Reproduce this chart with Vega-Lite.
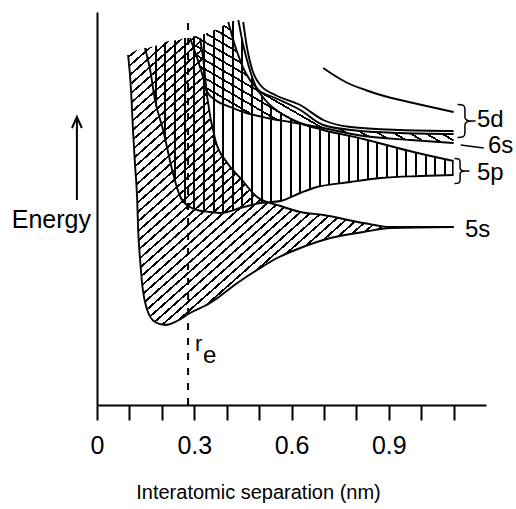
{
"$schema": "https://vega.github.io/schema/vega-lite/v6.json",
"width": 389, "height": 393,
"autosize": {"type": "none"},
"padding": {"left": 97, "top": 12, "right": 30, "bottom": 104},
"background": "white",
"config": {"view": {"stroke": null}, "font": "Liberation Sans"},
"datasets": {
"s5": [
{"x":0.096,"e":350,"hi":350},{"x":0.105,"e":315,"hi":352},{"x":0.111,"e":275,"hi":353},{"x":0.117,"e":242,"hi":354},{"x":0.124,"e":205,"hi":355},{"x":0.127,"e":175,"hi":355},{"x":0.133,"e":145,"hi":355},{"x":0.139,"e":122,"hi":356},{"x":0.155,"e":95,"hi":357},{"x":0.179,"e":83,"hi":359},{"x":0.21,"e":80,"hi":363},{"x":0.247,"e":84,"hi":365},{"x":0.287,"e":92,"hi":368},{"x":0.318,"e":97,"hi":368},{"x":0.328,"e":99,"hi":345},{"x":0.34,"e":101,"hi":308},{"x":0.349,"e":102,"hi":292},{"x":0.365,"e":106,"hi":265},{"x":0.402,"e":114,"hi":242},{"x":0.433,"e":122,"hi":230},{"x":0.442,"e":124,"hi":227},{"x":0.494,"e":135,"hi":208},{"x":0.556,"e":147,"hi":200},{"x":0.566,"e":148,"hi":199},{"x":0.627,"e":157,"hi":193},{"x":0.698,"e":165,"hi":190},{"x":0.72,"e":167,"hi":189},{"x":0.822,"e":173,"hi":182},{"x":0.905,"e":177,"hi":178},{"x":1.1,"e":178,"hi":178}
],
"p5": [
{"x":0.148,"e":356,"hi":356},{"x":0.164,"e":335,"hi":358},{"x":0.179,"e":305,"hi":359},{"x":0.204,"e":275,"hi":362},{"x":0.232,"e":235,"hi":364},{"x":0.257,"e":208,"hi":366},{"x":0.287,"e":198,"hi":368},{"x":0.309,"e":195,"hi":369},{"x":0.349,"e":193,"hi":373},{"x":0.381,"e":192,"hi":378},{"x":0.436,"e":196,"hi":385},{"x":0.442,"e":197,"hi":375},{"x":0.451,"e":198,"hi":360},{"x":0.467,"e":199,"hi":340},{"x":0.488,"e":201,"hi":320},{"x":0.504,"e":202,"hi":312},{"x":0.519,"e":203,"hi":305},{"x":0.566,"e":204,"hi":292},{"x":0.627,"e":212,"hi":282},{"x":0.668,"e":217,"hi":278},{"x":0.698,"e":219,"hi":275},{"x":0.782,"e":223,"hi":269},{"x":0.822,"e":225,"hi":266},{"x":0.875,"e":227,"hi":262},{"x":0.976,"e":229,"hi":253},{"x":1.1,"e":230,"hi":244}
],
"s6": [
{"x":0.287,"e":367,"hi":368},{"x":0.309,"e":347,"hi":369},{"x":0.328,"e":327,"hi":370},{"x":0.34,"e":313,"hi":372},{"x":0.365,"e":305,"hi":375},{"x":0.405,"e":299,"hi":381},{"x":0.43,"e":296,"hi":355},{"x":0.457,"e":292,"hi":333},{"x":0.498,"e":289,"hi":315},{"x":0.55,"e":286,"hi":307},{"x":0.596,"e":283,"hi":300},{"x":0.627,"e":281,"hi":295},{"x":0.698,"e":277,"hi":280},{"x":0.813,"e":270,"hi":274},{"x":0.936,"e":266,"hi":272},{"x":1.1,"e":262,"hi":271}
],
"curves": [
{"c":"5s_lo","x":0.096,"e":350},{"c":"5s_lo","x":0.105,"e":315},{"c":"5s_lo","x":0.111,"e":275},{"c":"5s_lo","x":0.117,"e":242},{"c":"5s_lo","x":0.124,"e":205},{"c":"5s_lo","x":0.127,"e":175},{"c":"5s_lo","x":0.133,"e":145},{"c":"5s_lo","x":0.139,"e":122},{"c":"5s_lo","x":0.155,"e":95},{"c":"5s_lo","x":0.179,"e":83},{"c":"5s_lo","x":0.21,"e":80},{"c":"5s_lo","x":0.247,"e":84},{"c":"5s_lo","x":0.287,"e":92},{"c":"5s_lo","x":0.349,"e":102},{"c":"5s_lo","x":0.433,"e":122},{"c":"5s_lo","x":0.494,"e":135},{"c":"5s_lo","x":0.556,"e":147},{"c":"5s_lo","x":0.627,"e":157},{"c":"5s_lo","x":0.72,"e":167},{"c":"5s_lo","x":0.822,"e":173},{"c":"5s_lo","x":0.905,"e":177},{"c":"5s_lo","x":1.1,"e":178},
{"c":"5s_hi","x":0.318,"e":367},{"c":"5s_hi","x":0.328,"e":345},{"c":"5s_hi","x":0.34,"e":308},{"c":"5s_hi","x":0.365,"e":265},{"c":"5s_hi","x":0.402,"e":242},{"c":"5s_hi","x":0.442,"e":227},{"c":"5s_hi","x":0.494,"e":208},{"c":"5s_hi","x":0.566,"e":199},{"c":"5s_hi","x":0.627,"e":193},{"c":"5s_hi","x":0.698,"e":190},{"c":"5s_hi","x":0.822,"e":182},{"c":"5s_hi","x":0.905,"e":178},{"c":"5s_hi","x":1.1,"e":178},
{"c":"5p_lo","x":0.148,"e":357},{"c":"5p_lo","x":0.164,"e":335},{"c":"5p_lo","x":0.179,"e":305},{"c":"5p_lo","x":0.204,"e":275},{"c":"5p_lo","x":0.232,"e":235},{"c":"5p_lo","x":0.257,"e":208},{"c":"5p_lo","x":0.287,"e":198},{"c":"5p_lo","x":0.309,"e":195},{"c":"5p_lo","x":0.349,"e":193},{"c":"5p_lo","x":0.381,"e":192},{"c":"5p_lo","x":0.442,"e":197},{"c":"5p_lo","x":0.504,"e":202},{"c":"5p_lo","x":0.566,"e":204},{"c":"5p_lo","x":0.627,"e":212},{"c":"5p_lo","x":0.668,"e":217},{"c":"5p_lo","x":0.782,"e":223},{"c":"5p_lo","x":0.875,"e":227},{"c":"5p_lo","x":0.998,"e":229},{"c":"5p_lo","x":1.1,"e":230},
{"c":"5p_hi","x":0.436,"e":385},{"c":"5p_hi","x":0.451,"e":360},{"c":"5p_hi","x":0.467,"e":340},{"c":"5p_hi","x":0.488,"e":320},{"c":"5p_hi","x":0.519,"e":305},{"c":"5p_hi","x":0.566,"e":292},{"c":"5p_hi","x":0.627,"e":282},{"c":"5p_hi","x":0.698,"e":275},{"c":"5p_hi","x":0.822,"e":266},{"c":"5p_hi","x":0.976,"e":253},{"c":"5p_hi","x":1.1,"e":244},
{"c":"6s_lo","x":0.287,"e":367},{"c":"6s_lo","x":0.309,"e":347},{"c":"6s_lo","x":0.328,"e":327},{"c":"6s_lo","x":0.34,"e":313},{"c":"6s_lo","x":0.365,"e":305},{"c":"6s_lo","x":0.411,"e":298},{"c":"6s_lo","x":0.451,"e":293},{"c":"6s_lo","x":0.525,"e":287},{"c":"6s_lo","x":0.596,"e":283},{"c":"6s_lo","x":0.698,"e":277},{"c":"6s_lo","x":0.822,"e":269},{"c":"6s_lo","x":0.967,"e":265},{"c":"6s_lo","x":1.1,"e":262},
{"c":"6s_hi","x":0.405,"e":383},{"c":"6s_hi","x":0.43,"e":355},{"c":"6s_hi","x":0.457,"e":333},{"c":"6s_hi","x":0.498,"e":315},{"c":"6s_hi","x":0.55,"e":307},{"c":"6s_hi","x":0.627,"e":295},{"c":"6s_hi","x":0.698,"e":280},{"c":"6s_hi","x":0.813,"e":274},{"c":"6s_hi","x":0.936,"e":272},{"c":"6s_hi","x":1.1,"e":271},
{"c":"5d_lo","x":0.451,"e":383},{"c":"5d_lo","x":0.464,"e":355},{"c":"5d_lo","x":0.479,"e":335},{"c":"5d_lo","x":0.504,"e":320},{"c":"5d_lo","x":0.55,"e":310},{"c":"5d_lo","x":0.627,"e":300},{"c":"5d_lo","x":0.698,"e":285},{"c":"5d_lo","x":0.782,"e":278},{"c":"5d_lo","x":0.936,"e":275},{"c":"5d_lo","x":1.1,"e":274},
{"c":"5d_hi","x":0.698,"e":337},{"c":"5d_hi","x":0.735,"e":329},{"c":"5d_hi","x":0.773,"e":322},{"c":"5d_hi","x":0.828,"e":315},{"c":"5d_hi","x":0.875,"e":310},{"c":"5d_hi","x":0.976,"e":302},{"c":"5d_hi","x":1.1,"e":293}
],
"re": [{"x":0.281,"e":0,"e2":390}],
"arrow": [{"x":-0.062,"e":205,"e2":286}],
"arrowhead": [{"x":-0.062,"e":288}],
"leader": [{"x":1.122,"e":260,"x2":1.193,"e2":257}],
"brace5d": [{"x":1.135,"e":284}],
"brace5p": [{"x":1.12,"e":234}],
"labels": [{"t":"5d","x":1.172,"e":278},{"t":"6s","x":1.206,"e":252},{"t":"5p","x":1.172,"e":225},{"t":"5s","x":1.135,"e":168},{"t":"e","x":0.327,"e":42}],
"rlabel": [{"t":"r","x":0.302,"e":54}],
"ylabel": [{"t":"Energy","x":-0.0185,"e":177}]
},
"encoding": {
"x": {"field": "x", "type": "quantitative", "scale": {"domain": [0, 1.2], "nice": false, "zero": false},
 "axis": {"values": [0,0.1,0.2,0.3,0.4,0.5,0.6,0.7,0.8,0.9,1.0,1.1], "format": ".1~f",
  "labelExpr": "indexof(['0','0.3','0.6','0.9'], datum.label) >= 0 ? datum.label : ''",
  "labelFlush": false, "labelOverlap": false, "grid": false,
  "domainColor": "black", "domainWidth": 2, "tickColor": "black", "tickWidth": 2, "tickSize": 15,
  "labelFontSize": 25, "labelColor": "black", "labelPadding": 13, "labelFont": "Liberation Sans",
  "title": "Interatomic separation (nm)", "titleFont": "Liberation Sans", "titleFontSize": 20, "titleFontWeight": "normal", "titleColor": "black",
  "titleX": 161, "titleY": 87, "titleBaseline": "middle", "titleAlign": "center"}},
"y": {"field": "e", "type": "quantitative", "scale": {"domain": [0, 393], "nice": false, "zero": false},
 "axis": {"domainColor": "black", "domainWidth": 2, "ticks": false, "labels": false, "grid": false, "title": null}}
},
"layer": [
{"data": {"name": "s5"}, "mark": {"type": "area", "interpolate": "monotone", "stroke": null,
 "fill": {"gradient": "linear", "x1": 0, "y1": 0, "x2": 1, "y2": 1, "stops": [
{"offset":0,"color":"transparent"},{"offset":0,"color":"#000"},{"offset":0.0042,"color":"#000"},{"offset":0.0042,"color":"transparent"},
{"offset":0.0167,"color":"transparent"},{"offset":0.0167,"color":"#000"},{"offset":0.0209,"color":"#000"},{"offset":0.0209,"color":"transparent"},
{"offset":0.0333,"color":"transparent"},{"offset":0.0333,"color":"#000"},{"offset":0.0375,"color":"#000"},{"offset":0.0375,"color":"transparent"},
{"offset":0.05,"color":"transparent"},{"offset":0.05,"color":"#000"},{"offset":0.0542,"color":"#000"},{"offset":0.0542,"color":"transparent"},
{"offset":0.0667,"color":"transparent"},{"offset":0.0667,"color":"#000"},{"offset":0.0709,"color":"#000"},{"offset":0.0709,"color":"transparent"},
{"offset":0.0833,"color":"transparent"},{"offset":0.0833,"color":"#000"},{"offset":0.0875,"color":"#000"},{"offset":0.0875,"color":"transparent"},
{"offset":0.1,"color":"transparent"},{"offset":0.1,"color":"#000"},{"offset":0.1042,"color":"#000"},{"offset":0.1042,"color":"transparent"},
{"offset":0.1167,"color":"transparent"},{"offset":0.1167,"color":"#000"},{"offset":0.1209,"color":"#000"},{"offset":0.1209,"color":"transparent"},
{"offset":0.1333,"color":"transparent"},{"offset":0.1333,"color":"#000"},{"offset":0.1375,"color":"#000"},{"offset":0.1375,"color":"transparent"},
{"offset":0.15,"color":"transparent"},{"offset":0.15,"color":"#000"},{"offset":0.1542,"color":"#000"},{"offset":0.1542,"color":"transparent"},
{"offset":0.1667,"color":"transparent"},{"offset":0.1667,"color":"#000"},{"offset":0.1709,"color":"#000"},{"offset":0.1709,"color":"transparent"},
{"offset":0.1833,"color":"transparent"},{"offset":0.1833,"color":"#000"},{"offset":0.1875,"color":"#000"},{"offset":0.1875,"color":"transparent"},
{"offset":0.2,"color":"transparent"},{"offset":0.2,"color":"#000"},{"offset":0.2042,"color":"#000"},{"offset":0.2042,"color":"transparent"},
{"offset":0.2167,"color":"transparent"},{"offset":0.2167,"color":"#000"},{"offset":0.2209,"color":"#000"},{"offset":0.2209,"color":"transparent"},
{"offset":0.2333,"color":"transparent"},{"offset":0.2333,"color":"#000"},{"offset":0.2375,"color":"#000"},{"offset":0.2375,"color":"transparent"},
{"offset":0.25,"color":"transparent"},{"offset":0.25,"color":"#000"},{"offset":0.2542,"color":"#000"},{"offset":0.2542,"color":"transparent"},
{"offset":0.2667,"color":"transparent"},{"offset":0.2667,"color":"#000"},{"offset":0.2709,"color":"#000"},{"offset":0.2709,"color":"transparent"},
{"offset":0.2833,"color":"transparent"},{"offset":0.2833,"color":"#000"},{"offset":0.2875,"color":"#000"},{"offset":0.2875,"color":"transparent"},
{"offset":0.3,"color":"transparent"},{"offset":0.3,"color":"#000"},{"offset":0.3042,"color":"#000"},{"offset":0.3042,"color":"transparent"},
{"offset":0.3167,"color":"transparent"},{"offset":0.3167,"color":"#000"},{"offset":0.3209,"color":"#000"},{"offset":0.3209,"color":"transparent"},
{"offset":0.3333,"color":"transparent"},{"offset":0.3333,"color":"#000"},{"offset":0.3375,"color":"#000"},{"offset":0.3375,"color":"transparent"},
{"offset":0.35,"color":"transparent"},{"offset":0.35,"color":"#000"},{"offset":0.3542,"color":"#000"},{"offset":0.3542,"color":"transparent"},
{"offset":0.3667,"color":"transparent"},{"offset":0.3667,"color":"#000"},{"offset":0.3709,"color":"#000"},{"offset":0.3709,"color":"transparent"},
{"offset":0.3833,"color":"transparent"},{"offset":0.3833,"color":"#000"},{"offset":0.3875,"color":"#000"},{"offset":0.3875,"color":"transparent"},
{"offset":0.4,"color":"transparent"},{"offset":0.4,"color":"#000"},{"offset":0.4042,"color":"#000"},{"offset":0.4042,"color":"transparent"},
{"offset":0.4167,"color":"transparent"},{"offset":0.4167,"color":"#000"},{"offset":0.4209,"color":"#000"},{"offset":0.4209,"color":"transparent"},
{"offset":0.4333,"color":"transparent"},{"offset":0.4333,"color":"#000"},{"offset":0.4375,"color":"#000"},{"offset":0.4375,"color":"transparent"},
{"offset":0.45,"color":"transparent"},{"offset":0.45,"color":"#000"},{"offset":0.4542,"color":"#000"},{"offset":0.4542,"color":"transparent"},
{"offset":0.4667,"color":"transparent"},{"offset":0.4667,"color":"#000"},{"offset":0.4709,"color":"#000"},{"offset":0.4709,"color":"transparent"},
{"offset":0.4833,"color":"transparent"},{"offset":0.4833,"color":"#000"},{"offset":0.4875,"color":"#000"},{"offset":0.4875,"color":"transparent"},
{"offset":0.5,"color":"transparent"},{"offset":0.5,"color":"#000"},{"offset":0.5042,"color":"#000"},{"offset":0.5042,"color":"transparent"},
{"offset":0.5167,"color":"transparent"},{"offset":0.5167,"color":"#000"},{"offset":0.5209,"color":"#000"},{"offset":0.5209,"color":"transparent"},
{"offset":0.5333,"color":"transparent"},{"offset":0.5333,"color":"#000"},{"offset":0.5375,"color":"#000"},{"offset":0.5375,"color":"transparent"},
{"offset":0.55,"color":"transparent"},{"offset":0.55,"color":"#000"},{"offset":0.5542,"color":"#000"},{"offset":0.5542,"color":"transparent"},
{"offset":0.5667,"color":"transparent"},{"offset":0.5667,"color":"#000"},{"offset":0.5709,"color":"#000"},{"offset":0.5709,"color":"transparent"},
{"offset":0.5833,"color":"transparent"},{"offset":0.5833,"color":"#000"},{"offset":0.5875,"color":"#000"},{"offset":0.5875,"color":"transparent"},
{"offset":0.6,"color":"transparent"},{"offset":0.6,"color":"#000"},{"offset":0.6042,"color":"#000"},{"offset":0.6042,"color":"transparent"},
{"offset":0.6167,"color":"transparent"},{"offset":0.6167,"color":"#000"},{"offset":0.6209,"color":"#000"},{"offset":0.6209,"color":"transparent"},
{"offset":0.6333,"color":"transparent"},{"offset":0.6333,"color":"#000"},{"offset":0.6375,"color":"#000"},{"offset":0.6375,"color":"transparent"},
{"offset":0.65,"color":"transparent"},{"offset":0.65,"color":"#000"},{"offset":0.6542,"color":"#000"},{"offset":0.6542,"color":"transparent"},
{"offset":0.6667,"color":"transparent"},{"offset":0.6667,"color":"#000"},{"offset":0.6709,"color":"#000"},{"offset":0.6709,"color":"transparent"},
{"offset":0.6833,"color":"transparent"},{"offset":0.6833,"color":"#000"},{"offset":0.6875,"color":"#000"},{"offset":0.6875,"color":"transparent"},
{"offset":0.7,"color":"transparent"},{"offset":0.7,"color":"#000"},{"offset":0.7042,"color":"#000"},{"offset":0.7042,"color":"transparent"},
{"offset":0.7167,"color":"transparent"},{"offset":0.7167,"color":"#000"},{"offset":0.7209,"color":"#000"},{"offset":0.7209,"color":"transparent"},
{"offset":0.7333,"color":"transparent"},{"offset":0.7333,"color":"#000"},{"offset":0.7375,"color":"#000"},{"offset":0.7375,"color":"transparent"},
{"offset":0.75,"color":"transparent"},{"offset":0.75,"color":"#000"},{"offset":0.7542,"color":"#000"},{"offset":0.7542,"color":"transparent"},
{"offset":0.7667,"color":"transparent"},{"offset":0.7667,"color":"#000"},{"offset":0.7709,"color":"#000"},{"offset":0.7709,"color":"transparent"},
{"offset":0.7833,"color":"transparent"},{"offset":0.7833,"color":"#000"},{"offset":0.7875,"color":"#000"},{"offset":0.7875,"color":"transparent"},
{"offset":0.8,"color":"transparent"},{"offset":0.8,"color":"#000"},{"offset":0.8042,"color":"#000"},{"offset":0.8042,"color":"transparent"},
{"offset":0.8167,"color":"transparent"},{"offset":0.8167,"color":"#000"},{"offset":0.8209,"color":"#000"},{"offset":0.8209,"color":"transparent"},
{"offset":0.8333,"color":"transparent"},{"offset":0.8333,"color":"#000"},{"offset":0.8375,"color":"#000"},{"offset":0.8375,"color":"transparent"},
{"offset":0.85,"color":"transparent"},{"offset":0.85,"color":"#000"},{"offset":0.8542,"color":"#000"},{"offset":0.8542,"color":"transparent"},
{"offset":0.8667,"color":"transparent"},{"offset":0.8667,"color":"#000"},{"offset":0.8709,"color":"#000"},{"offset":0.8709,"color":"transparent"},
{"offset":0.8833,"color":"transparent"},{"offset":0.8833,"color":"#000"},{"offset":0.8875,"color":"#000"},{"offset":0.8875,"color":"transparent"},
{"offset":0.9,"color":"transparent"},{"offset":0.9,"color":"#000"},{"offset":0.9042,"color":"#000"},{"offset":0.9042,"color":"transparent"},
{"offset":0.9167,"color":"transparent"},{"offset":0.9167,"color":"#000"},{"offset":0.9209,"color":"#000"},{"offset":0.9209,"color":"transparent"},
{"offset":0.9333,"color":"transparent"},{"offset":0.9333,"color":"#000"},{"offset":0.9375,"color":"#000"},{"offset":0.9375,"color":"transparent"},
{"offset":0.95,"color":"transparent"},{"offset":0.95,"color":"#000"},{"offset":0.9542,"color":"#000"},{"offset":0.9542,"color":"transparent"},
{"offset":0.9667,"color":"transparent"},{"offset":0.9667,"color":"#000"},{"offset":0.9709,"color":"#000"},{"offset":0.9709,"color":"transparent"},
{"offset":0.9833,"color":"transparent"},{"offset":0.9833,"color":"#000"},{"offset":0.9875,"color":"#000"},{"offset":0.9875,"color":"transparent"}
 ]}},
 "encoding": {"y2": {"field": "hi"}}},
{"data": {"name": "p5"}, "mark": {"type": "area", "interpolate": "monotone", "stroke": null,
 "fill": {"gradient": "linear", "x1": 0, "y1": 0, "x2": 1, "y2": 0, "stops": [
{"offset":0,"color":"transparent"},{"offset":0,"color":"#000"},{"offset":0.0065,"color":"#000"},{"offset":0.0065,"color":"transparent"},
{"offset":0.0313,"color":"transparent"},{"offset":0.0313,"color":"#000"},{"offset":0.0378,"color":"#000"},{"offset":0.0378,"color":"transparent"},
{"offset":0.0625,"color":"transparent"},{"offset":0.0625,"color":"#000"},{"offset":0.069,"color":"#000"},{"offset":0.069,"color":"transparent"},
{"offset":0.0938,"color":"transparent"},{"offset":0.0938,"color":"#000"},{"offset":0.1003,"color":"#000"},{"offset":0.1003,"color":"transparent"},
{"offset":0.125,"color":"transparent"},{"offset":0.125,"color":"#000"},{"offset":0.1315,"color":"#000"},{"offset":0.1315,"color":"transparent"},
{"offset":0.1563,"color":"transparent"},{"offset":0.1563,"color":"#000"},{"offset":0.1628,"color":"#000"},{"offset":0.1628,"color":"transparent"},
{"offset":0.1875,"color":"transparent"},{"offset":0.1875,"color":"#000"},{"offset":0.194,"color":"#000"},{"offset":0.194,"color":"transparent"},
{"offset":0.2188,"color":"transparent"},{"offset":0.2188,"color":"#000"},{"offset":0.2253,"color":"#000"},{"offset":0.2253,"color":"transparent"},
{"offset":0.25,"color":"transparent"},{"offset":0.25,"color":"#000"},{"offset":0.2565,"color":"#000"},{"offset":0.2565,"color":"transparent"},
{"offset":0.2813,"color":"transparent"},{"offset":0.2813,"color":"#000"},{"offset":0.2878,"color":"#000"},{"offset":0.2878,"color":"transparent"},
{"offset":0.3125,"color":"transparent"},{"offset":0.3125,"color":"#000"},{"offset":0.319,"color":"#000"},{"offset":0.319,"color":"transparent"},
{"offset":0.3438,"color":"transparent"},{"offset":0.3438,"color":"#000"},{"offset":0.3503,"color":"#000"},{"offset":0.3503,"color":"transparent"},
{"offset":0.375,"color":"transparent"},{"offset":0.375,"color":"#000"},{"offset":0.3815,"color":"#000"},{"offset":0.3815,"color":"transparent"},
{"offset":0.4063,"color":"transparent"},{"offset":0.4063,"color":"#000"},{"offset":0.4128,"color":"#000"},{"offset":0.4128,"color":"transparent"},
{"offset":0.4375,"color":"transparent"},{"offset":0.4375,"color":"#000"},{"offset":0.444,"color":"#000"},{"offset":0.444,"color":"transparent"},
{"offset":0.4688,"color":"transparent"},{"offset":0.4688,"color":"#000"},{"offset":0.4753,"color":"#000"},{"offset":0.4753,"color":"transparent"},
{"offset":0.5,"color":"transparent"},{"offset":0.5,"color":"#000"},{"offset":0.5065,"color":"#000"},{"offset":0.5065,"color":"transparent"},
{"offset":0.5313,"color":"transparent"},{"offset":0.5313,"color":"#000"},{"offset":0.5378,"color":"#000"},{"offset":0.5378,"color":"transparent"},
{"offset":0.5625,"color":"transparent"},{"offset":0.5625,"color":"#000"},{"offset":0.569,"color":"#000"},{"offset":0.569,"color":"transparent"},
{"offset":0.5938,"color":"transparent"},{"offset":0.5938,"color":"#000"},{"offset":0.6003,"color":"#000"},{"offset":0.6003,"color":"transparent"},
{"offset":0.625,"color":"transparent"},{"offset":0.625,"color":"#000"},{"offset":0.6315,"color":"#000"},{"offset":0.6315,"color":"transparent"},
{"offset":0.6563,"color":"transparent"},{"offset":0.6563,"color":"#000"},{"offset":0.6628,"color":"#000"},{"offset":0.6628,"color":"transparent"},
{"offset":0.6875,"color":"transparent"},{"offset":0.6875,"color":"#000"},{"offset":0.694,"color":"#000"},{"offset":0.694,"color":"transparent"},
{"offset":0.7188,"color":"transparent"},{"offset":0.7188,"color":"#000"},{"offset":0.7253,"color":"#000"},{"offset":0.7253,"color":"transparent"},
{"offset":0.75,"color":"transparent"},{"offset":0.75,"color":"#000"},{"offset":0.7565,"color":"#000"},{"offset":0.7565,"color":"transparent"},
{"offset":0.7813,"color":"transparent"},{"offset":0.7813,"color":"#000"},{"offset":0.7878,"color":"#000"},{"offset":0.7878,"color":"transparent"},
{"offset":0.8125,"color":"transparent"},{"offset":0.8125,"color":"#000"},{"offset":0.819,"color":"#000"},{"offset":0.819,"color":"transparent"},
{"offset":0.8438,"color":"transparent"},{"offset":0.8438,"color":"#000"},{"offset":0.8503,"color":"#000"},{"offset":0.8503,"color":"transparent"},
{"offset":0.875,"color":"transparent"},{"offset":0.875,"color":"#000"},{"offset":0.8815,"color":"#000"},{"offset":0.8815,"color":"transparent"},
{"offset":0.9063,"color":"transparent"},{"offset":0.9063,"color":"#000"},{"offset":0.9128,"color":"#000"},{"offset":0.9128,"color":"transparent"},
{"offset":0.9375,"color":"transparent"},{"offset":0.9375,"color":"#000"},{"offset":0.944,"color":"#000"},{"offset":0.944,"color":"transparent"},
{"offset":0.9688,"color":"transparent"},{"offset":0.9688,"color":"#000"},{"offset":0.9753,"color":"#000"},{"offset":0.9753,"color":"transparent"},
{"offset":0.9935,"color":"transparent"},{"offset":0.9935,"color":"#000"},{"offset":1,"color":"#000"}
 ]}},
 "encoding": {"y2": {"field": "hi"}}},
{"data": {"name": "s6"}, "mark": {"type": "area", "interpolate": "monotone", "stroke": null,
 "fill": {"gradient": "linear", "x1": 0, "y1": 1, "x2": 1.106, "y2": 0.135, "stops": [
{"offset":0,"color":"transparent"},{"offset":0,"color":"#000"},{"offset":0.0077,"color":"#000"},{"offset":0.0077,"color":"transparent"},
{"offset":0.0333,"color":"transparent"},{"offset":0.0333,"color":"#000"},{"offset":0.041,"color":"#000"},{"offset":0.041,"color":"transparent"},
{"offset":0.0667,"color":"transparent"},{"offset":0.0667,"color":"#000"},{"offset":0.0744,"color":"#000"},{"offset":0.0744,"color":"transparent"},
{"offset":0.1,"color":"transparent"},{"offset":0.1,"color":"#000"},{"offset":0.1077,"color":"#000"},{"offset":0.1077,"color":"transparent"},
{"offset":0.1333,"color":"transparent"},{"offset":0.1333,"color":"#000"},{"offset":0.141,"color":"#000"},{"offset":0.141,"color":"transparent"},
{"offset":0.1667,"color":"transparent"},{"offset":0.1667,"color":"#000"},{"offset":0.1744,"color":"#000"},{"offset":0.1744,"color":"transparent"},
{"offset":0.2,"color":"transparent"},{"offset":0.2,"color":"#000"},{"offset":0.2077,"color":"#000"},{"offset":0.2077,"color":"transparent"},
{"offset":0.2333,"color":"transparent"},{"offset":0.2333,"color":"#000"},{"offset":0.241,"color":"#000"},{"offset":0.241,"color":"transparent"},
{"offset":0.2667,"color":"transparent"},{"offset":0.2667,"color":"#000"},{"offset":0.2744,"color":"#000"},{"offset":0.2744,"color":"transparent"},
{"offset":0.3,"color":"transparent"},{"offset":0.3,"color":"#000"},{"offset":0.3077,"color":"#000"},{"offset":0.3077,"color":"transparent"},
{"offset":0.3333,"color":"transparent"},{"offset":0.3333,"color":"#000"},{"offset":0.341,"color":"#000"},{"offset":0.341,"color":"transparent"},
{"offset":0.3667,"color":"transparent"},{"offset":0.3667,"color":"#000"},{"offset":0.3744,"color":"#000"},{"offset":0.3744,"color":"transparent"},
{"offset":0.4,"color":"transparent"},{"offset":0.4,"color":"#000"},{"offset":0.4077,"color":"#000"},{"offset":0.4077,"color":"transparent"},
{"offset":0.4333,"color":"transparent"},{"offset":0.4333,"color":"#000"},{"offset":0.441,"color":"#000"},{"offset":0.441,"color":"transparent"},
{"offset":0.4667,"color":"transparent"},{"offset":0.4667,"color":"#000"},{"offset":0.4744,"color":"#000"},{"offset":0.4744,"color":"transparent"},
{"offset":0.5,"color":"transparent"},{"offset":0.5,"color":"#000"},{"offset":0.5077,"color":"#000"},{"offset":0.5077,"color":"transparent"},
{"offset":0.5333,"color":"transparent"},{"offset":0.5333,"color":"#000"},{"offset":0.541,"color":"#000"},{"offset":0.541,"color":"transparent"},
{"offset":0.5667,"color":"transparent"},{"offset":0.5667,"color":"#000"},{"offset":0.5744,"color":"#000"},{"offset":0.5744,"color":"transparent"},
{"offset":0.6,"color":"transparent"},{"offset":0.6,"color":"#000"},{"offset":0.6077,"color":"#000"},{"offset":0.6077,"color":"transparent"},
{"offset":0.6333,"color":"transparent"},{"offset":0.6333,"color":"#000"},{"offset":0.641,"color":"#000"},{"offset":0.641,"color":"transparent"},
{"offset":0.6667,"color":"transparent"},{"offset":0.6667,"color":"#000"},{"offset":0.6744,"color":"#000"},{"offset":0.6744,"color":"transparent"},
{"offset":0.7,"color":"transparent"},{"offset":0.7,"color":"#000"},{"offset":0.7077,"color":"#000"},{"offset":0.7077,"color":"transparent"},
{"offset":0.7333,"color":"transparent"},{"offset":0.7333,"color":"#000"},{"offset":0.741,"color":"#000"},{"offset":0.741,"color":"transparent"},
{"offset":0.7667,"color":"transparent"},{"offset":0.7667,"color":"#000"},{"offset":0.7744,"color":"#000"},{"offset":0.7744,"color":"transparent"},
{"offset":0.8,"color":"transparent"},{"offset":0.8,"color":"#000"},{"offset":0.8077,"color":"#000"},{"offset":0.8077,"color":"transparent"},
{"offset":0.8333,"color":"transparent"},{"offset":0.8333,"color":"#000"},{"offset":0.841,"color":"#000"},{"offset":0.841,"color":"transparent"},
{"offset":0.8667,"color":"transparent"},{"offset":0.8667,"color":"#000"},{"offset":0.8744,"color":"#000"},{"offset":0.8744,"color":"transparent"},
{"offset":0.9,"color":"transparent"},{"offset":0.9,"color":"#000"},{"offset":0.9077,"color":"#000"},{"offset":0.9077,"color":"transparent"},
{"offset":0.9333,"color":"transparent"},{"offset":0.9333,"color":"#000"},{"offset":0.941,"color":"#000"},{"offset":0.941,"color":"transparent"},
{"offset":0.9667,"color":"transparent"},{"offset":0.9667,"color":"#000"},{"offset":0.9744,"color":"#000"},{"offset":0.9744,"color":"transparent"}
 ]}},
 "encoding": {"y2": {"field": "hi"}}},
{"data": {"name": "curves"}, "mark": {"type": "line", "interpolate": "monotone", "color": "black", "strokeWidth": 1.9},
 "encoding": {"detail": {"field": "c"}}},
{"data": {"name": "re"}, "mark": {"type": "rule", "color": "black", "strokeWidth": 2, "strokeDash": [7, 8]},
 "encoding": {"y2": {"field": "e2"}}},
{"data": {"name": "arrow"}, "mark": {"type": "rule", "color": "black", "strokeWidth": 2},
 "encoding": {"y2": {"field": "e2"}}},
{"data": {"name": "arrowhead"}, "mark": {"type": "point", "shape": "M-0.45,1L0,0L0.45,1", "size": 484, "filled": false, "color": "black", "strokeWidth": 2, "opacity": 1}},
{"data": {"name": "leader"}, "mark": {"type": "rule", "color": "black", "strokeWidth": 1.5},
 "encoding": {"x2": {"field": "x2"}, "y2": {"field": "e2"}}},
{"data": {"name": "brace5d"}, "mark": {"type": "point", "shape": "M-0.45,-1C-0.1,-1 0,-0.95 0,-0.7L0,-0.25C0,-0.05 0.15,0 0.45,0C0.15,0 0,0.05 0,0.25L0,0.7C0,0.95 -0.1,1 -0.45,1M0.45,0L0.65,0", "size": 1089, "filled": false, "color": "black", "strokeWidth": 1.5, "opacity": 1}},
{"data": {"name": "brace5p"}, "mark": {"type": "point", "shape": "M-0.45,-1C-0.1,-1 0,-0.95 0,-0.7L0,-0.25C0,-0.05 0.15,0 0.45,0C0.15,0 0,0.05 0,0.25L0,0.7C0,0.95 -0.1,1 -0.45,1M0.45,0L0.75,0", "size": 625, "filled": false, "color": "black", "strokeWidth": 1.5, "opacity": 1}},
{"data": {"name": "labels"}, "mark": {"type": "text", "align": "left", "baseline": "alphabetic", "fontSize": 24, "color": "black", "font": "Liberation Sans"},
 "encoding": {"text": {"field": "t"}}},
{"data": {"name": "rlabel"}, "mark": {"type": "text", "align": "left", "baseline": "alphabetic", "fontSize": 22, "color": "black", "font": "Liberation Sans"},
 "encoding": {"text": {"field": "t"}}},
{"data": {"name": "ylabel"}, "mark": {"type": "text", "align": "right", "baseline": "alphabetic", "fontSize": 25, "color": "black", "font": "Liberation Sans"},
 "encoding": {"text": {"field": "t"}}}
]
}
